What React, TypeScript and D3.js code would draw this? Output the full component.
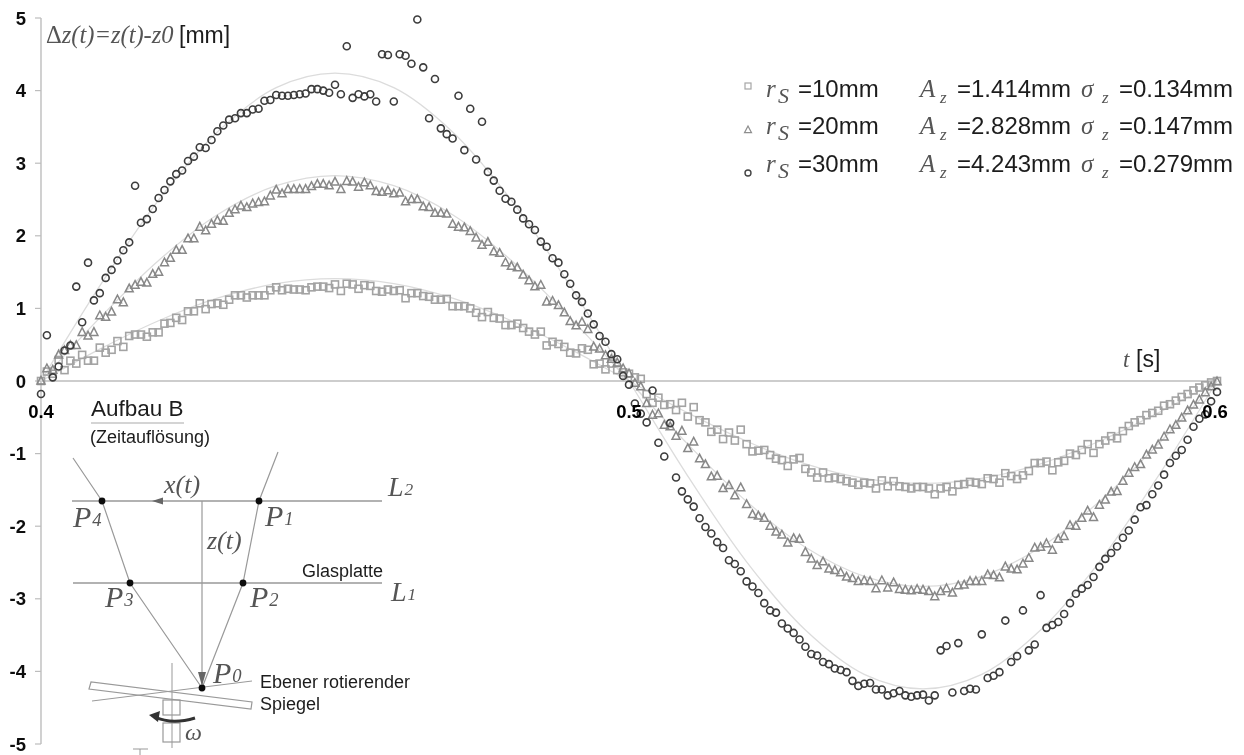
import React from "react";
import * as d3 from "d3";

const timeStart = 0.4;
const timeStep = 0.001;

const squares10 = [
  0, .13, .10, .29, .15, .28, .24, .36, .28, .28, .46, .39, .43, .55, .47, .62, .64, .64, .61, .67,
  .67, .79, .80, .87, .84, .96, .96, 1.07, .99, 1.06, 1.07, 1.05, 1.12, 1.18, 1.18, 1.15, 1.18, 1.18, 1.18, 1.25,
  1.29, 1.25, 1.27, 1.26, 1.26, 1.25, 1.29, 1.30, 1.30, 1.28, 1.33, 1.24, 1.34, 1.33, 1.27, 1.32, 1.31, 1.24, 1.23, 1.26,
  1.24, 1.25, 1.14, 1.21, 1.21, 1.17, 1.16, 1.12, 1.12, 1.13, 1.03, 1.03, 1.03, 1.00, .94, .88, .95, .87, .86, .77,
  .77, .79, .73, .68, .64, .68, .49, .54, .51, .47, .39, .38, .45, .43, .23, .24, .16, .24, .15, .12,
  .10, .05, .03, -.18, -.30, -.23, -.33, -.32, -.40, -.30, -.49, -.36, -.54, -.57, -.70, -.67, -.80, -.71, -.82, -.67,
  -.87, -.97, -.96, -.95, -1.02, -1.07, -1.09, -1.17, -1.08, -1.06, -1.21, -1.26, -1.33, -1.26, -1.34, -1.33, -1.35, -1.38, -1.40, -1.43,
  -1.40, -1.41, -1.48, -1.37, -1.45, -1.38, -1.45, -1.46, -1.48, -1.46, -1.46, -1.48, -1.56, -1.48, -1.46, -1.52, -1.43, -1.42, -1.39, -1.40,
  -1.42, -1.34, -1.35, -1.40, -1.27, -1.31, -1.35, -1.30, -1.24, -1.13, -1.13, -1.11, -1.23, -1.12, -1.10, -1.00, -1.02, -.95, -.87, -.99,
  -.87, -.82, -.76, -.79, -.69, -.62, -.57, -.54, -.47, -.44, -.41, -.34, -.32, -.27, -.22, -.18, -.13, -.09, -.06, -.02, 0,
];

const triangles20 = [
  0, .17, .15, .36, .42, .49, .49, .67, .62, .67, .90, .88, .95, 1.12, 1.08, 1.27, 1.32, 1.36, 1.35, 1.47,
  1.50, 1.63, 1.69, 1.80, 1.80, 1.96, 1.96, 2.12, 2.07, 2.16, 2.21, 2.20, 2.31, 2.36, 2.41, 2.39, 2.44, 2.46, 2.47, 2.55,
  2.63, 2.58, 2.64, 2.64, 2.64, 2.64, 2.68, 2.71, 2.71, 2.69, 2.74, 2.64, 2.75, 2.74, 2.67, 2.73, 2.69, 2.61, 2.60, 2.62,
  2.58, 2.59, 2.47, 2.50, 2.50, 2.40, 2.39, 2.31, 2.31, 2.30, 2.16, 2.12, 2.11, 2.06, 1.97, 1.87, 1.91, 1.78, 1.76, 1.63,
  1.58, 1.56, 1.46, 1.38, 1.30, 1.32, 1.09, 1.10, 1.04, .94, .82, .76, .81, .71, .47, .44, .35, .30, .25, .17,
  .10, -.03, -.08, -.31, -.47, -.45, -.61, -.63, -.76, -.69, -.93, -.84, -1.07, -1.15, -1.32, -1.31, -1.48, -1.44, -1.58, -1.47,
  -1.70, -1.84, -1.86, -1.89, -2.00, -2.08, -2.12, -2.23, -2.17, -2.18, -2.36, -2.45, -2.54, -2.49, -2.59, -2.61, -2.64, -2.70, -2.72, -2.76,
  -2.75, -2.76, -2.86, -2.75, -2.85, -2.78, -2.87, -2.88, -2.89, -2.87, -2.88, -2.90, -2.97, -2.90, -2.86, -2.92, -2.82, -2.81, -2.76, -2.76,
  -2.76, -2.67, -2.68, -2.71, -2.56, -2.59, -2.60, -2.52, -2.44, -2.30, -2.29, -2.24, -2.33, -2.18, -2.14, -1.99, -2.00, -1.89, -1.79, -1.88,
  -1.71, -1.64, -1.53, -1.52, -1.38, -1.27, -1.19, -1.15, -1.02, -.95, -.88, -.77, -.67, -.61, -.51, -.41, -.33, -.26, -.16, -.08, -.01,
];

const circles30 = [
  -.18, .63, .05, .20, .42, .49, 1.30, .81, 1.63, 1.11, 1.21, 1.42, 1.53, 1.66, 1.80, 1.91, 2.69, 2.18, 2.23, 2.37,
  2.52, 2.63, 2.75, 2.85, 2.90, 3.03, 3.09, 3.22, 3.21, 3.32, 3.44, 3.52, 3.60, 3.62, 3.69, 3.69, 3.74, 3.75, 3.86, 3.87,
  3.94, 3.93, 3.93, 3.94, 3.95, 3.96, 4.02, 4.02, 4.00, 3.97, 4.08, 3.95, 4.61, 3.90, 3.95, 3.92, 3.95, 3.85, 4.50, 4.49,
  3.85, 4.50, 4.48, 4.37, 4.98, 4.32, 3.62, 4.16, 3.48, 3.40, 3.34, 3.93, 3.18, 3.75, 3.05, 3.57, 2.88, 2.76, 2.62, 2.51,
  2.47, 2.36, 2.24, 2.16, 2.08, 1.92, 1.85, 1.69, 1.63, 1.47, 1.34, 1.18, 1.09, .93, .78, .62, .54, .37, .30, .07,
  -.05, -.31, -.45, -.57, -.13, -.85, -1.04, -.58, -1.33, -1.52, -1.63, -1.73, -1.89, -2.01, -2.10, -2.22, -2.30, -2.47, -2.52, -2.62,
  -2.76, -2.83, -2.92, -3.06, -3.16, -3.19, -3.34, -3.41, -3.47, -3.56, -3.66, -3.76, -3.78, -3.87, -3.90, -3.96, -3.98, -4.01, -4.13, -4.20,
  -4.17, -4.16, -4.25, -4.25, -4.33, -4.30, -4.27, -4.33, -4.35, -4.33, -4.32, -4.40, -4.33, -3.71, -3.65, -4.29, -3.61, -4.27, -4.24, -4.25,
  -3.49, -4.09, -4.06, -4.01, -3.30, -3.87, -3.79, -3.16, -3.71, -3.63, -2.95, -3.40, -3.36, -3.32, -3.21, -3.06, -2.93, -2.86, -2.81, -2.70,
  -2.56, -2.45, -2.37, -2.28, -2.16, -2.06, -1.91, -1.74, -1.71, -1.56, -1.44, -1.29, -1.13, -1.03, -.95, -.81, -.63, -.52, -.46, -.28, -.15,
];

const fitTimes = [0.4, 0.41, 0.42, 0.43, 0.44, 0.45, 0.46, 0.47, 0.48, 0.49, 0.5, 0.51, 0.52, 0.53, 0.54, 0.55, 0.56, 0.57, 0.58, 0.59, 0.6];
const fit10 = [0, .44, .83, 1.14, 1.34, 1.41, 1.34, 1.14, .83, .44, 0, -.44, -.83, -1.14, -1.34, -1.41, -1.34, -1.14, -.83, -.44, 0];
const fit20 = [0, .87, 1.66, 2.29, 2.69, 2.83, 2.69, 2.29, 1.66, .87, 0, -.87, -1.66, -2.29, -2.69, -2.83, -2.69, -2.29, -1.66, -.87, 0];
const fit30 = [0, 1.31, 2.49, 3.43, 4.04, 4.24, 4.04, 3.43, 2.49, 1.31, 0, -1.31, -2.49, -3.43, -4.04, -4.24, -4.04, -3.43, -2.49, -1.31, 0];

const xTicks = [0.4, 0.5, 0.6];
const yTicks = [5, 4, 3, 2, 1, 0, -1, -2, -3, -4, -5];
const legendRadii = ["=10mm", "=20mm", "=30mm"];
const legendAmps = ["=1.414mm", "=2.828mm", "=4.243mm"];
const legendSigmas = ["=0.134mm", "=0.147mm", "=0.279mm"];

const x = d3.scaleLinear().domain([0.4, 0.6]).range([41, 1217]);
const y = d3.scaleLinear().domain([-5, 5]).range([744, 18]);
const fitLine = d3.line<number>().x((_, i) => x(fitTimes[i])).y((d) => y(d)).curve(d3.curveCatmullRom);

const SANS = "'Liberation Sans', Arial, sans-serif";
const SERIF = "'Liberation Serif', 'Times New Roman', serif";
const INK = "#1c1c1c";
const SOFT = "#555";
const LINE = "#999";

const Square = ({ cx, cy, s = 7, stroke = "#a3a3a3", w = 1.6 }: any) => (
  <rect x={cx - s / 2} y={cy - s / 2} width={s} height={s} fill="none" stroke={stroke} strokeWidth={w} />
);
const Tri = ({ cx, cy, s = 8, stroke = "#888", w = 1.5 }: any) => (
  <path d={`M${cx},${cy - s * 0.58}L${cx + s / 2},${cy + s * 0.38}L${cx - s / 2},${cy + s * 0.38}Z`} fill="none" stroke={stroke} strokeWidth={w} />
);
const Circ = ({ cx, cy, r = 3.5, stroke = "#3c3c3c", w = 1.6 }: any) => (
  <circle cx={cx} cy={cy} r={r} fill="none" stroke={stroke} strokeWidth={w} />
);

const tOf = (i: number) => timeStart + i * timeStep;

const Sub = ({ xp, yp, main, sub, size = 30 }: any) => (
  <text x={xp} y={yp} fontFamily={SERIF} fontStyle="italic" fontSize={size} fill={SOFT}>
    {main}
    <tspan fontSize={size * 0.62} dx={1} dy={-1}>{sub}</tspan>
  </text>
);

export default function App() {
  return (
    <svg width={1244} height={755} style={{ position: "absolute", left: 0, top: 0, background: "#fff" }}>
      <defs>
        <filter id="soft" x="-2%" y="-2%" width="104%" height="104%">
          <feGaussianBlur stdDeviation="0.6" />
        </filter>
      </defs>
      <g filter="url(#soft)">
        {/* axes */}
        <line x1={x(0.4)} x2={x(0.4)} y1={y(5)} y2={y(-5)} stroke="#bdbdbd" strokeWidth={1.4} />
        <line x1={x(0.4)} x2={x(0.6)} y1={y(0)} y2={y(0)} stroke="#bdbdbd" strokeWidth={1.6} />
        {yTicks.map((t) => (
          <g key={t}>
            <line x1={x(0.4) - 6} x2={x(0.4)} y1={y(t)} y2={y(t)} stroke="#bdbdbd" strokeWidth={1.2} />
            <text x={26} y={y(t) + 6.5} textAnchor="end" fontFamily={SANS} fontWeight="bold" fontSize={18.5} fill="#111">{t}</text>
          </g>
        ))}

        {/* fitted curves */}
        {[fit10, fit20, fit30].map((f, k) => (
          <path key={k} d={fitLine(f) as string} fill="none" stroke="#dcdcdc" strokeWidth={1.3} />
        ))}

        {/* measured points */}
        {squares10.map((v, i) => <Square key={i} cx={x(tOf(i))} cy={y(v)} />)}
        {triangles20.map((v, i) => <Tri key={i} cx={x(tOf(i))} cy={y(v)} />)}
        {circles30.map((v, i) => <Circ key={i} cx={x(tOf(i))} cy={y(v)} />)}

        {xTicks.map((t) => (
          <text key={t} x={x(t) - (t === 0.6 ? 2 : 0)} y={418} textAnchor="middle" fontFamily={SANS} fontWeight="bold" fontSize={18.5} fill="#000">{t.toFixed(1)}</text>
        ))}

        {/* axis titles */}
        <text x={46} y={43} fontFamily={SERIF} fontStyle="italic" fontSize={24.5} fill={SOFT}>
          <tspan fontStyle="normal">Δ</tspan>z(t)=z(t)-z0
        </text>
        <text x={179} y={43} fontFamily={SANS} fontSize={23} fill={INK}>[mm]</text>
        <text x={1123} y={367} fontFamily={SERIF} fontStyle="italic" fontSize={23} fill={SOFT}>t</text>
        <text x={1136} y={367} fontFamily={SANS} fontSize={23} fill={INK}>[s]</text>

        {/* legend */}
        <Square cx={748} cy={86} s={6} stroke="#a6a6a6" w={1.2} />
        <Tri cx={748} cy={130} s={7} stroke="#8e8e8e" w={1.2} />
        <Circ cx={748} cy={173} r={3} stroke="#444" w={1.4} />
        {legendRadii.map((r, k) => {
          const base = [97, 134, 172][k];
          return (
            <g key={r}>
              <text x={766} y={base} fontFamily={SERIF} fontStyle="italic" fontSize={25} fill={SOFT}>r</text>
              <text x={778} y={base + 6} fontFamily={SERIF} fontStyle="italic" fontSize={22} fill={SOFT}>S</text>
              <text x={798} y={base} fontFamily={SANS} fontSize={24} fill={INK}>{r}</text>
              <text x={920} y={base} fontFamily={SERIF} fontStyle="italic" fontSize={25} fill={SOFT}>A</text>
              <text x={940} y={base + 6} fontFamily={SERIF} fontStyle="italic" fontSize={17} fill={SOFT}>z</text>
              <text x={957} y={base} fontFamily={SANS} fontSize={24} fill={INK}>{legendAmps[k]}</text>
              <text x={1081} y={base} fontFamily={SERIF} fontStyle="italic" fontSize={25} fill={SOFT}>σ</text>
              <text x={1102} y={base + 6} fontFamily={SERIF} fontStyle="italic" fontSize={17} fill={SOFT}>z</text>
              <text x={1119} y={base} fontFamily={SANS} fontSize={24} fill={INK}>{legendSigmas[k]}</text>
            </g>
          );
        })}

        {/* setup sketch */}
        <text x={91} y={416} fontFamily={SANS} fontSize={22.5} fill={INK}>Aufbau B</text>
        <line x1={91} x2={184} y1={423} y2={423} stroke="#aaa" strokeWidth={1.2} />
        <text x={90} y={443} fontFamily={SANS} fontSize={18} fill={INK}>(Zeitauflösung)</text>

        <g stroke={LINE} strokeWidth={1.2} fill="none">
          <line x1={72} x2={382} y1={501} y2={501} strokeWidth={1.5} />
          <line x1={73} x2={382} y1={583} y2={583} strokeWidth={1.5} />
          <polyline points="278,452 259,501 243,583 202,688" />
          <polyline points="73,458 102,501 130,583 202,688" />
          <line x1={202} x2={202} y1={501} y2={684} />
          <polygon points="89,689 91,682 252,702 251,709" />
          <line x1={92} y1={701} x2={252} y2={681} strokeWidth={1} />
          <line x1={172} x2={172} y1={663} y2={748} strokeWidth={1} />
          <rect x={163} y={700} width={17} height={15} />
          <rect x={163} y={723} width={17} height={19} />
          <line x1={133} x2={148} y1={749} y2={749} strokeWidth={1} />
          <line x1={140} x2={140} y1={749} y2={755} strokeWidth={1} />
        </g>
        <path d="M163,501 L152,501 L163,497.5 Z M163,501 L152,501 L163,504.5 Z" fill="#666" stroke="none" />
        <path d="M198,672 L206,672 L202,686 Z" fill="#666" stroke="none" />
        {[[259, 501], [102, 501], [243, 583], [130, 583], [202, 688]].map(([a, b], k) => (
          <circle key={k} cx={a} cy={b} r={3.4} fill="#111" />
        ))}
        <path d="M195,718 Q172,725 155,717" fill="none" stroke="#333" strokeWidth={3} />
        <path d="M149,715 L160,711 L158,722 Z" fill="#333" />

        <Sub xp={73} yp={527} main="P" sub="4" />
        <Sub xp={265} yp={526} main="P" sub="1" />
        <Sub xp={105} yp={607} main="P" sub="3" />
        <Sub xp={250} yp={607} main="P" sub="2" />
        <Sub xp={213} yp={683} main="P" sub="0" />
        <Sub xp={388} yp={496} main="L" sub="2" size={28} />
        <Sub xp={391} yp={601} main="L" sub="1" size={28} />
        <text x={164} y={493} fontFamily={SERIF} fontStyle="italic" fontSize={26} fill={SOFT}>x(t)</text>
        <text x={207} y={549} fontFamily={SERIF} fontStyle="italic" fontSize={26} fill={SOFT}>z(t)</text>
        <text x={185} y={740} fontFamily={SERIF} fontStyle="italic" fontSize={24} fill={SOFT}>ω</text>
        <text x={302} y={577} fontFamily={SANS} fontSize={18} fill={INK}>Glasplatte</text>
        <text x={260} y={688} fontFamily={SANS} fontSize={18} fill={INK}>Ebener rotierender</text>
        <text x={260} y={710} fontFamily={SANS} fontSize={18} fill={INK}>Spiegel</text>
      </g>
    </svg>
  );
}
